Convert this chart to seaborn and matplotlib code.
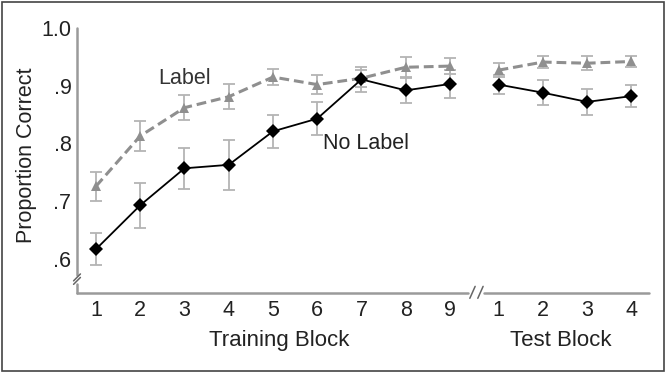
import matplotlib
matplotlib.use('Agg')
import matplotlib.pyplot as plt
import matplotlib.transforms as mtransforms
from matplotlib.patches import Rectangle
import numpy as np
import pandas as pd
import seaborn as sns

# block labels and where they sit on the x axis
train_blocks = ['1', '2', '3', '4', '5', '6', '7', '8', '9']
test_blocks = ['1', '2', '3', '4']
train_pos = [1, 2, 3, 4, 5, 6, 7, 8, 9]
test_pos = [10.1, 11.1, 12.1, 13.1]

# proportion correct
label_train = [0.726, 0.813, 0.862, 0.881, 0.915, 0.902, 0.913, 0.932, 0.934]
label_test = [0.927, 0.941, 0.939, 0.942]
nolabel_train = [0.617, 0.693, 0.757, 0.763, 0.821, 0.843, 0.911, 0.892, 0.903]
nolabel_test = [0.902, 0.888, 0.872, 0.882]

# standard errors
label_train_err = [0.025, 0.026, 0.022, 0.022, 0.014, 0.017, 0.015, 0.017, 0.014]
label_test_err = [0.012, 0.011, 0.012, 0.009]
nolabel_train_err = [0.028, 0.039, 0.036, 0.043, 0.028, 0.029, 0.021, 0.022, 0.025]
nolabel_test_err = [0.017, 0.022, 0.023, 0.019]


def main():
    rows = []
    for cond, tr, te, tre, tee in [('Label', label_train, label_test, label_train_err, label_test_err),
                                   ('No Label', nolabel_train, nolabel_test, nolabel_train_err, nolabel_test_err)]:
        for p, m, e in zip(train_pos, tr, tre):
            rows.append({'cond': cond, 'phase': 'train', 'pos': p, 'mean': m, 'err': e})
        for p, m, e in zip(test_pos, te, tee):
            rows.append({'cond': cond, 'phase': 'test', 'pos': p, 'mean': m, 'err': e})
    df = pd.DataFrame(rows)

    sns.set_style('white')
    plt.rcParams['font.family'] = ['Liberation Sans', 'DejaVu Sans']

    fig = plt.figure(figsize=(6.66, 3.73), dpi=100)
    ax = fig.add_axes([77 / 666, 1 - 293 / 373, 572 / 666, 265 / 373])

    err_col = '#b4b4b4'
    for cond in ['Label', 'No Label']:
        sub = df[df['cond'] == cond]
        ax.errorbar(sub['pos'], sub['mean'], yerr=sub['err'], fmt='none',
                    ecolor=err_col, elinewidth=1.3, capsize=4, capthick=1.3, zorder=1)

    sns.lineplot(data=df, x='pos', y='mean', hue='cond', style='cond', units='phase',
                 estimator=None, sort=True,
                 palette={'Label': '#8f8f8f', 'No Label': '#000000'},
                 dashes={'Label': (3.2, 1.6), 'No Label': ''},
                 markers={'Label': '^', 'No Label': 'D'},
                 markersize=7.5, markeredgewidth=0,
                 legend=False, ax=ax, zorder=3)
    for line in ax.get_lines():
        if line.get_color() in ('#8f8f8f',):
            line.set_linewidth(2.2)
        else:
            line.set_linewidth(1.3)

    ax.set_xlim(0.57, 13.5)
    ax.set_ylim(0.541, 1.0)

    ax.set_xticks(train_pos + test_pos)
    ax.set_xticklabels(train_blocks + test_blocks)
    ax.set_yticks([0.6, 0.7, 0.8, 0.9, 1.0])
    ax.set_yticklabels(['.6', '.7', '.8', '.9', '1.0'])
    ax.tick_params(axis='both', direction='in', length=2, width=1, color='#888888',
                   labelsize=15.5, labelcolor='#222222', pad=5)
    ax.tick_params(axis='y', direction='out', pad=2)

    for s in ax.spines.values():
        s.set_visible(False)

    sp_col = '#9a9a9a'
    sp_lw = 1.8
    trans_x = mtransforms.blended_transform_factory(ax.transData, ax.transAxes)
    trans_y = mtransforms.blended_transform_factory(ax.transAxes, ax.transData)
    # x axis with break between training and test
    ax.plot([0.57, 9.4], [0, 0], transform=trans_x, color=sp_col, lw=sp_lw, clip_on=False)
    ax.plot([9.78, 13.5], [0, 0], transform=trans_x, color=sp_col, lw=sp_lw, clip_on=False)
    for bx in [9.45, 9.63]:
        ax.plot([bx, bx + 0.12], [-0.02, 0.025], transform=trans_x, color='#666666', lw=1.1, clip_on=False)
    # y axis with break at the bottom
    ax.plot([0, 0], [0.573, 1.0], transform=trans_y, color=sp_col, lw=sp_lw, clip_on=False)
    ax.plot([0, 0], [0.541, 0.557], transform=trans_y, color=sp_col, lw=sp_lw, clip_on=False)
    ax.plot([-0.006, 0.006], [0.556, 0.568], transform=trans_y, color='#666666', lw=1.1, clip_on=False)
    ax.plot([-0.006, 0.006], [0.562, 0.574], transform=trans_y, color='#666666', lw=1.1, clip_on=False)

    ax.set_xlabel('')
    ax.set_ylabel('Proportion Correct', fontsize=15.5, color='#222222')
    ax.yaxis.set_label_coords(-0.07, 0.52)

    ax.text(5.15, -0.178, 'Training Block', transform=trans_x, ha='center', va='center',
            fontsize=16, color='#222222')
    ax.text(11.5, -0.178, 'Test Block', transform=trans_x, ha='center', va='center',
            fontsize=16, color='#222222')

    ax.text(3.0, 0.913, 'Label', ha='center', va='center', fontsize=15.5, color='#333333')
    ax.text(6.13, 0.80, 'No Label', ha='left', va='center', fontsize=15.5, color='#222222')

    fig.patches.append(Rectangle((0.003, 0.006), 0.994, 0.988, transform=fig.transFigure,
                                 fill=False, edgecolor='#444444', lw=1.2))

    fig.savefig('out.png', dpi=100)


if __name__ == '__main__':
    main()
